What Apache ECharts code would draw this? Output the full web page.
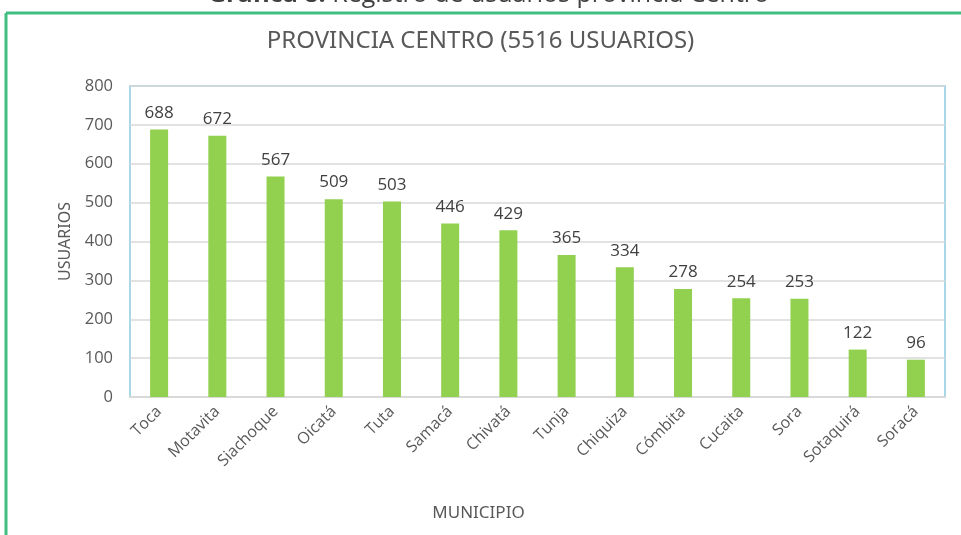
<!DOCTYPE html>
<html>
<head>
<meta charset="utf-8">
<script src="https://cdn.jsdelivr.net/npm/echarts@6/dist/echarts.min.js"></script>
<style>
  html, body { margin: 0; padding: 0; background: #fff; }
  #chart { width: 961px; height: 535px; }
</style>
</head>
<body>
<div id="chart"></div>
<script>
// datos de la gráfica
var municipios = ['Toca', 'Motavita', 'Siachoque', 'Oicatá', 'Tuta', 'Samacá', 'Chivatá', 'Tunja', 'Chiquiza', 'Cómbita', 'Cucaita', 'Sora', 'Sotaquirá', 'Soracá'];
var usuarios = [688, 672, 567, 509, 503, 446, 429, 365, 334, 278, 254, 253, 122, 96];
var titulo = 'PROVINCIA CENTRO (5516 USUARIOS)';

var myChart = echarts.init(document.getElementById('chart'));
myChart.setOption({
  animation: false,
  textStyle: { fontFamily: 'Open Sans' },
  title: {
    text: titulo,
    left: 'center',
    top: 29,
    padding: [0, 0, 0, 52],
    textStyle: { fontFamily: 'Noto Sans', fontSize: 24, fontWeight: 'normal', color: '#595959' }
  },
  graphic: [
    // marco verde
    { type: 'line', shape: { x1: 6, y1: 13, x2: 961, y2: 13 }, style: { stroke: '#40bf80', lineWidth: 3 } },
    { type: 'line', shape: { x1: 6, y1: 13, x2: 6, y2: 535 }, style: { stroke: '#40bf80', lineWidth: 3 } },
    // leyenda cortada arriba
    {
      type: 'text', left: 208, top: -18,
      style: {
        text: '{b|Gráfica 8.} Registro de usuarios provincia Centro',
        fontFamily: 'Open Sans', fontSize: 25, fill: '#404040',
        rich: { b: { fontWeight: 'bold', fontFamily: 'Open Sans', fontSize: 25, fill: '#404040' } }
      }
    }
  ],
  grid: {
    left: 130, right: 16, top: 86, bottom: 138,
    show: true, borderColor: '#a8d8e8', borderWidth: 2
  },
  xAxis: {
    type: 'category',
    data: municipios,
    name: 'MUNICIPIO',
    nameLocation: 'middle',
    nameGap: 108,
    nameTextStyle: { fontFamily: 'Noto Sans', fontSize: 17, color: '#595959', padding: [0, 118, 0, 0] },
    axisLine: { lineStyle: { color: '#d9d9d9', width: 2 } },
    axisTick: { show: false },
    axisLabel: { rotate: 45, interval: 0, fontSize: 16, color: '#595959', margin: 12 }
  },
  yAxis: {
    type: 'value',
    min: 0, max: 800, interval: 100,
    name: 'USUARIOS',
    nameLocation: 'middle',
    nameGap: 56,
    nameTextStyle: { fontFamily: 'Noto Sans', fontSize: 16, color: '#595959' },
    axisLine: { show: false },
    axisTick: { show: false },
    axisLabel: { fontSize: 16.5, color: '#595959', margin: 17 },
    splitLine: { lineStyle: { color: '#d9d9d9', width: 1.5 } }
  },
  series: [{
    type: 'bar',
    data: usuarios,
    barWidth: 18,
    itemStyle: { color: '#92d050' },
    label: { show: true, position: 'top', distance: 8, fontSize: 17, color: '#404040' }
  }]
});
</script>
</body>
</html>
